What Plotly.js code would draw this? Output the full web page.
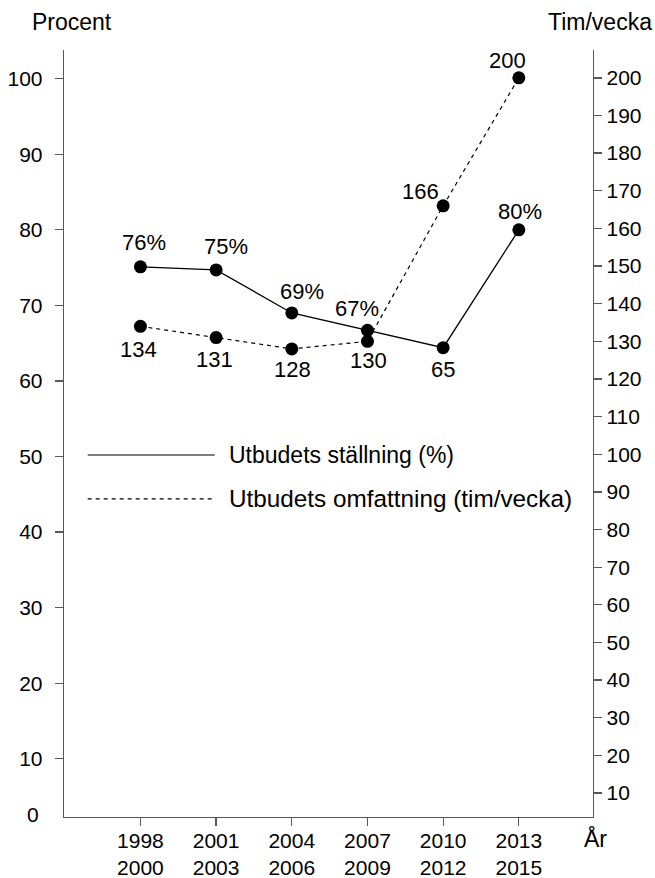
<!DOCTYPE html>
<html>
<head>
<meta charset="utf-8">
<script src="https://cdn.plot.ly/plotly-3.0.1.min.js"></script>
<style>html,body{margin:0;padding:0;background:#fff;}#chart{width:655px;height:878px;}</style>
</head>
<body>
<div id="chart"></div>
<script>
// ---- data ----
const periods = ["1998<br>2000", "2001<br>2003", "2004<br>2006", "2007<br>2009", "2010<br>2012", "2013<br>2015"];
const percentValues = [75.1, 74.7, 69.0, 66.7, 64.4, 80.0];
const percentLabels = ["76%", "75%", "69%", "67%", "65", "80%"];
const hoursValues = [134, 131, 128, 130, 166, 200];
const hoursLabels = ["134", "131", "128", "130", "166", "200"];
const leftTicks = [10, 20, 30, 40, 50, 60, 70, 80, 90, 100];
const rightTicks = [10, 20, 30, 40, 50, 60, 70, 80, 90, 100, 110, 120, 130, 140, 150, 160, 170, 180, 190, 200];
const seriesNames = ["Utbudets ställning (%)", "Utbudets omfattning (tim/vecka)"];

// ---- style ----
const FONT = "Liberation Sans, Arial, sans-serif";
const FS_TICK = 21, FS_LAB = 22, FS_TXT = 23;
const AX = "#595959";
const leftRange = [2.29, 103.8];
const rightRange = [3.64, 207.4];

// label offsets (px): [dx, dy] with dy positive = up
const pctOff = [[4, 24], [10, 23], [10, 21], [-10, 22], [0, -22], [1, 18]];
const hrsOff = [[-2, -23], [-2, -22], [1, -21], [1, -19], [-23, 14], [-11, 17]];

const traces = [
  {x: periods, y: percentValues, type: "scatter", mode: "lines+markers", yaxis: "y",
   line: {color: "#000", width: 1.3}, marker: {color: "#000", size: 13}, name: seriesNames[0], showlegend: false},
  {x: periods, y: hoursValues, type: "scatter", mode: "lines+markers", yaxis: "y2",
   line: {color: "#000", width: 1.2, dash: "4px,4px"}, marker: {color: "#000", size: 13}, name: seriesNames[1], showlegend: false}
];

const f = (s) => ({family: FONT, size: s, color: "#000"});
const annotations = [];
percentValues.forEach((v, i) => annotations.push({x: periods[i], y: v, xref: "x", yref: "y", text: percentLabels[i],
  showarrow: false, xshift: pctOff[i][0], yshift: pctOff[i][1], font: f(FS_LAB)}));
hoursValues.forEach((v, i) => annotations.push({x: periods[i], y: v, xref: "x", yref: "y2", text: hoursLabels[i],
  showarrow: false, xshift: hrsOff[i][0], yshift: hrsOff[i][1], font: f(FS_LAB)}));
// axis titles and extras
annotations.push({xref: "paper", yref: "paper", x: 0.015, y: 1.0365, xanchor: "center", yanchor: "middle",
  text: "Procent", showarrow: false, font: f(FS_TXT)});
annotations.push({xref: "paper", yref: "paper", x: 1.0138, y: 1.0365, xanchor: "center", yanchor: "middle",
  text: "Tim/vecka", showarrow: false, font: f(FS_TXT)});
annotations.push({xref: "paper", yref: "paper", x: 1.0, y: 0, xanchor: "center", yanchor: "top", yshift: -6, xshift: 2,
  text: "År", showarrow: false, font: f(FS_TXT)});
annotations.push({xref: "paper", yref: "y", x: 0, y: leftRange[0], xanchor: "right", yanchor: "middle", xshift: -23, yshift: 3,
  text: "0", showarrow: false, font: f(FS_TICK)});
// manual legend
const legY = [0.472, 0.4148];
const legFS = [23, 24.3];
seriesNames.forEach((n, i) => annotations.push({xref: "paper", yref: "paper", x: 0.308, y: legY[i], xanchor: "left", yanchor: "middle",
  text: n, showarrow: false, font: f(legFS[i])}));
const shapes = [
  {type: "line", xref: "paper", yref: "paper", x0: 0.0448, x1: 0.285, y0: legY[0], y1: legY[0], line: {color: "#000", width: 1.2}},
  {type: "line", xref: "paper", yref: "paper", x0: 0.0448, x1: 0.285, y0: legY[1], y1: legY[1], line: {color: "#000", width: 1.1, dash: "4px,4px"}}
];

const layout = {
  width: 655, height: 878,
  margin: {l: 64, r: 62, t: 50, b: 61},
  paper_bgcolor: "#fff", plot_bgcolor: "#fff",
  font: f(FS_TICK),
  showlegend: false,
  xaxis: {type: "category", range: [-1.01, 5.98], showline: true, linecolor: AX, linewidth: 1.3,
    ticks: "outside", ticklen: 8, tickcolor: AX, tickwidth: 1.3, showgrid: false, zeroline: false,
    tickfont: f(FS_TICK), ticklabelstandoff: -4},
  yaxis: {range: leftRange, tickvals: leftTicks, showline: true, linecolor: AX, linewidth: 1.3,
    ticks: "outside", ticklen: 8, tickcolor: AX, tickwidth: 1.3, showgrid: false, zeroline: false,
    tickfont: f(FS_TICK), ticklabelstandoff: 8},
  yaxis2: {range: rightRange, tickvals: rightTicks, overlaying: "y", side: "right", showline: true, linecolor: AX, linewidth: 1.3,
    ticks: "outside", ticklen: 8, tickcolor: AX, tickwidth: 1.3, showgrid: false, zeroline: false,
    tickfont: f(FS_TICK), ticklabelstandoff: 0},
  annotations: annotations,
  shapes: shapes
};

Plotly.newPlot("chart", traces, layout, {displayModeBar: false, staticPlot: true});
</script>
</body>
</html>
